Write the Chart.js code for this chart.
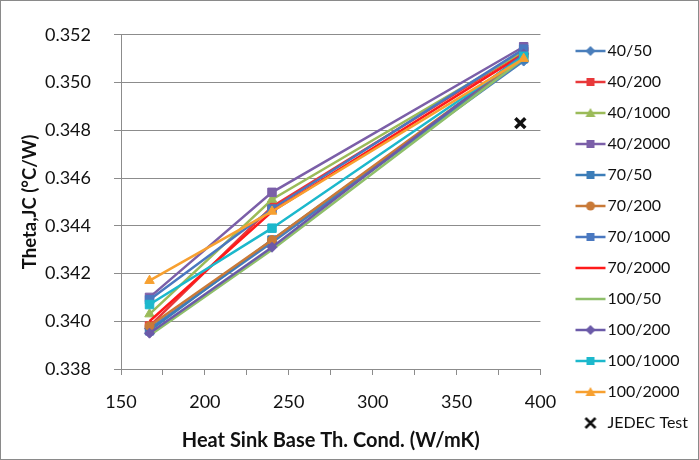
<!DOCTYPE html>
<html>
<head>
<meta charset="utf-8">
<script src="https://cdn.jsdelivr.net/npm/chart.js@4.4.1/dist/chart.umd.min.js"></script>
<style>
  html, body { margin: 0; padding: 0; background: #fff; }
  #wrap { width: 697px; height: 458px; border: 1px solid #8a8a8a; }
</style>
</head>
<body>
<div id="wrap"><canvas id="myChart" width="697" height="458"></canvas></div>
<script>
// conductivité de la base du dissipateur (W/mK)
const conductivity = [167, 240, 390];

// Theta JC par cas
const s40_50    = [0.3397, 0.3433, 0.3509];
const s40_200   = [0.3398, 0.3448, 0.3513];
const s40_1000  = [0.3403, 0.3451, 0.3513];
const s40_2000  = [0.3410, 0.3454, 0.3515];
const s70_50    = [0.3396, 0.3434, 0.3510];
const s70_200   = [0.3398, 0.3434, 0.3511];
const s70_1000  = [0.3409, 0.3447, 0.3514];
const s70_2000  = [0.3400, 0.3446, 0.3512];
const s100_50   = [0.3394, 0.3430, 0.3510];
const s100_200  = [0.3395, 0.3431, 0.3512];
const s100_1000 = [0.3407, 0.3439, 0.3511];
const s100_2000 = [0.3417, 0.3446, 0.3510];

// point de mesure JEDEC
const jedecX = [388];
const jedecY = [0.3483];

const yTicks = [0.338, 0.340, 0.342, 0.344, 0.346, 0.348, 0.350, 0.352];
const xTicks = [150, 200, 250, 300, 350, 400];

let series = [
    { label: '40/50',     data: s40_50,    color: '#4a7ebb', marker: 'rectRot',  r: 5 },
    { label: '40/200',    data: s40_200,   color: '#e8383a', marker: 'rect',     r: 6 },
    { label: '40/1000',   data: s40_1000,  color: '#9bbb59', marker: 'triangle', r: 5.5 },
    { label: '40/2000',   data: s40_2000,  color: '#7b5fa8', marker: 'rect',     r: 6 },
    { label: '70/50',     data: s70_50,    color: '#3c7db8', marker: 'rect',     r: 6 },
    { label: '70/200',    data: s70_200,   color: '#c97a38', marker: 'circle',   r: 4.5 },
    { label: '70/1000',   data: s70_1000,  color: '#4a78c0', marker: 'rect',     r: 6 },
    { label: '70/2000',   data: s70_2000,  color: '#ff1a1a', marker: false,      r: 0 },
    { label: '100/50',    data: s100_50,   color: '#8fbf6a', marker: false,      r: 0 },
    { label: '100/200',   data: s100_200,  color: '#6b5aa8', marker: 'rectRot',  r: 5 },
    { label: '100/1000',  data: s100_1000, color: '#1cb8cc', marker: 'rect',     r: 6 },
    { label: '100/2000',  data: s100_2000, color: '#f7a030', marker: 'triangle', r: 5.5 },
];

// petite image ligne + marqueur pour la légende
// (canvas plus large que la boite : la ligne est dessinée à droite)
function legendIcon(color, marker) {
    let c = document.createElement('canvas');
    c.width = 60; c.height = 14;
    let g = c.getContext('2d');
    let cx = 43, cy = 7;
    if (marker === 'x') {
        g.strokeStyle = '#111';
        g.lineWidth = 2.6;
        g.beginPath();
        g.moveTo(cx - 5, cy - 5); g.lineTo(cx + 5, cy + 5);
        g.moveTo(cx + 5, cy - 5); g.lineTo(cx - 5, cy + 5);
        g.stroke();
        return c;
    }
    g.strokeStyle = color;
    g.lineWidth = 2.5;
    g.beginPath(); g.moveTo(28, cy); g.lineTo(58, cy); g.stroke();
    g.fillStyle = color;
    g.beginPath();
    if (marker === 'rect') g.rect(cx - 4, cy - 4, 8, 8);
    else if (marker === 'rectRot') { g.moveTo(cx, cy - 5); g.lineTo(cx + 5, cy); g.lineTo(cx, cy + 5); g.lineTo(cx - 5, cy); }
    else if (marker === 'triangle') { g.moveTo(cx, cy - 5); g.lineTo(cx + 5, cy + 4); g.lineTo(cx - 5, cy + 4); }
    else if (marker === 'circle') g.arc(cx, cy, 4.5, 0, Math.PI * 2);
    g.fill();
    return c;
}

let datasets = series.map((s, i) => ({
    label: s.label,
    data: s.data.map((v, k) => ({ x: conductivity[k], y: v })),
    borderColor: s.color,
    backgroundColor: s.color,
    borderWidth: 2.5,
    pointStyle: s.marker || 'circle',
    pointRadius: s.r,
    pointBorderWidth: 1,
    showLine: true,
    order: series.length - i,
    icon: legendIcon(s.color, s.marker)
}));

datasets.push({
    label: 'JEDEC Test',
    data: jedecX.map((v, k) => ({ x: v, y: jedecY[k] })),
    borderColor: '#111',
    backgroundColor: '#111',
    pointStyle: 'crossRot',
    pointRadius: 7,
    pointBorderWidth: 3.5,
    showLine: false,
    order: 0,
    icon: legendIcon('#111', 'x')
});

const gridColor = '#8c8c8c';
const fontFam = 'Lato, "Open Sans", sans-serif';

const config = {
    type: 'scatter',
    data: { datasets: datasets },
    options: {
        responsive: false,
        animation: false,
        layout: { padding: { left: 0, top: 20, right: 0, bottom: 6 } },
        plugins: {
            tooltip: { enabled: false },
            legend: {
                position: 'right',
                labels: {
                    usePointStyle: true,
                    pointStyleWidth: 44,
                    padding: 15,
                    color: '#111',
                    font: { family: fontFam, size: 16 },
                    sort: (a, b) => a.datasetIndex - b.datasetIndex,
                    generateLabels: (chart) => {
                        let base = Chart.defaults.plugins.legend.labels.generateLabels(chart);
                        return base.map(item => {
                            item.pointStyle = chart.data.datasets[item.datasetIndex].icon;
                            return item;
                        });
                    }
                }
            }
        },
        scales: {
            x: {
                type: 'linear',
                min: 150, max: 400,
                afterFit: (scale) => { scale.height = 84; },
                ticks: {
                    stepSize: 25,
                    padding: 16,
                    color: '#111',
                    font: { family: fontFam, size: 18 },
                    maxRotation: 0,
                    callback: (v) => xTicks.includes(v) ? v : ''
                },
                grid: {
                    drawOnChartArea: false,
                    color: gridColor,
                    tickLength: 6
                },
                border: { color: gridColor, width: 1 },
                title: {
                    display: true,
                    text: 'Heat Sink Base Th. Cond. (W/mK)',
                    color: '#111',
                    font: { family: fontFam, size: 20, weight: 'bold' },
                    padding: { top: 0, bottom: 0 }
                }
            },
            y: {
                min: 0.338, max: 0.352,
                afterFit: (scale) => { scale.width = 120; },
                afterBuildTicks: (scale) => { scale.ticks = yTicks.map(v => ({ value: v })); },
                ticks: {
                    padding: 23,
                    color: '#111',
                    font: { family: fontFam, size: 18 },
                    callback: (v) => v.toFixed(3)
                },
                grid: {
                    color: gridColor,
                    tickLength: 7
                },
                border: { color: gridColor, width: 1 },
                title: {
                    display: true,
                    text: 'Theta,JC (°C/W)',
                    color: '#111',
                    font: { family: fontFam, size: 18.5, weight: 'bold' },
                    padding: { top: 18, bottom: 0 }
                }
            }
        }
    }
};

window.addEventListener('DOMContentLoaded', () => {
    const myChart = new Chart(document.getElementById('myChart'), config);
});
</script>
</body>
</html>
